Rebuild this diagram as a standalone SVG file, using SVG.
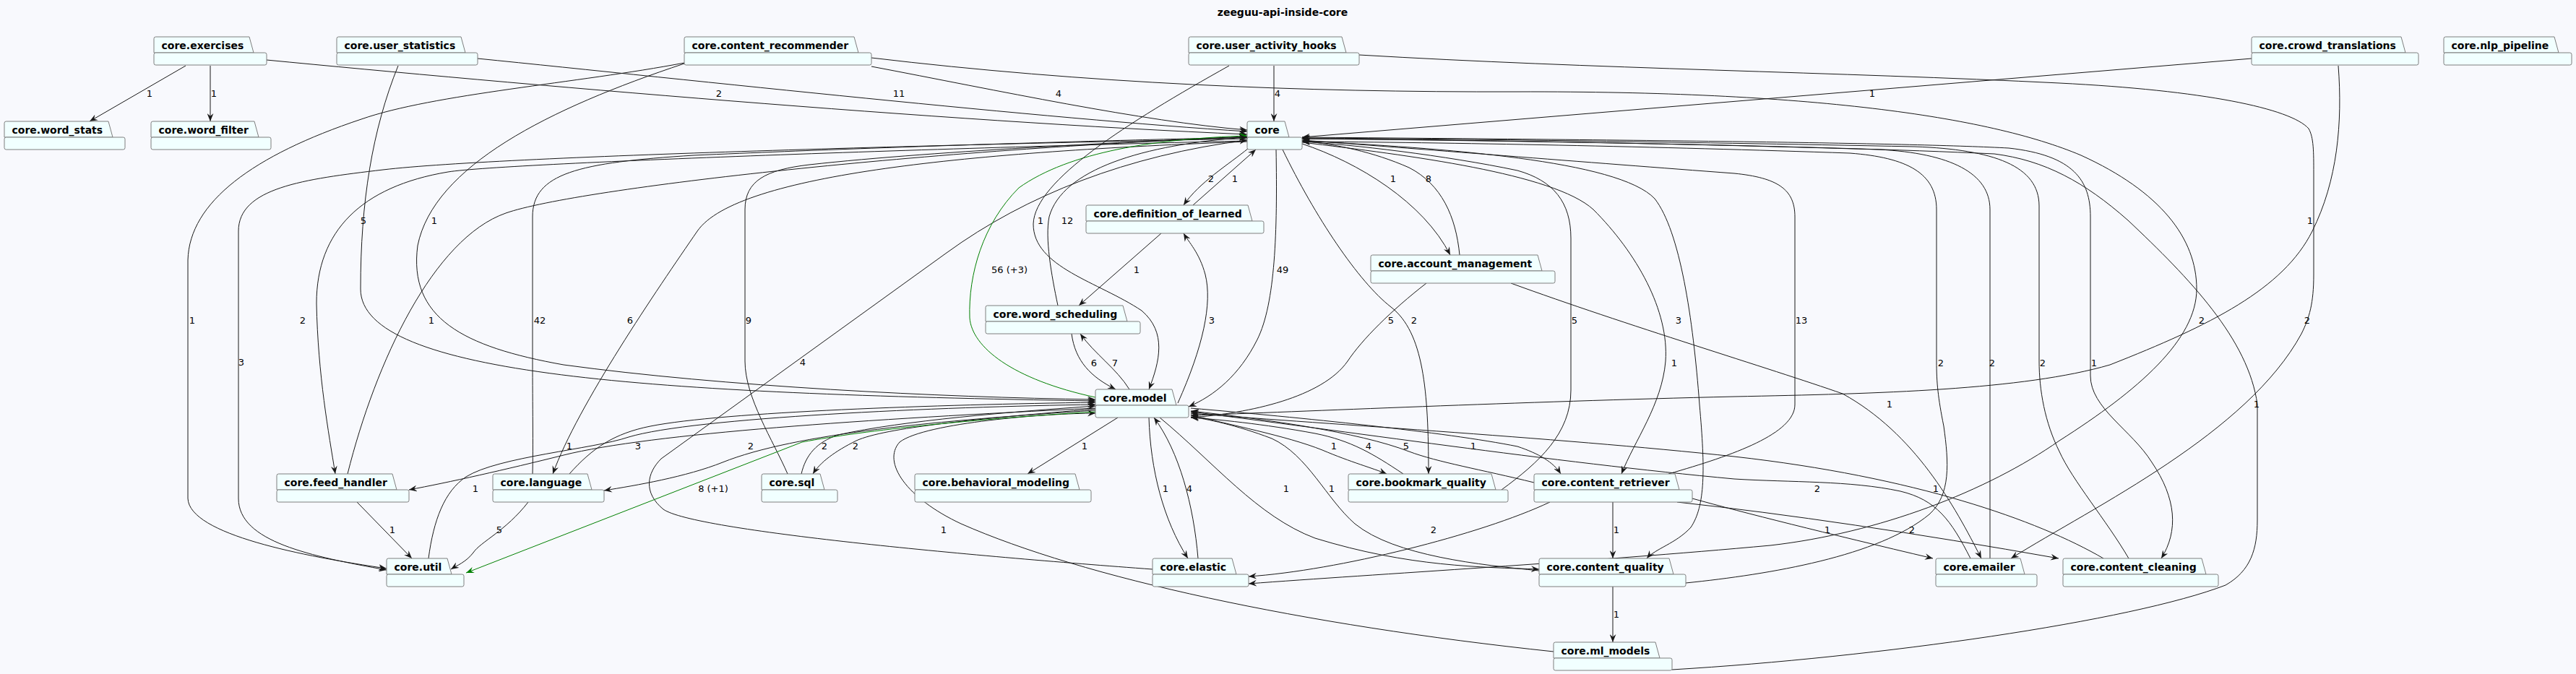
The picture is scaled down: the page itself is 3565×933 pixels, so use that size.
<svg xmlns="http://www.w3.org/2000/svg" width="3565" height="933" viewBox="0 0 3565 933">
<style>
.bg{fill:#F8F9FD}
.tab,.body{fill:#F1FFFF;stroke:#7E7E7E;stroke-width:1}
.nt{font-family:"DejaVu Sans",sans-serif;font-weight:bold;font-size:14px;fill:#000}
.title{font-family:"DejaVu Sans",sans-serif;font-weight:bold;font-size:14px;fill:#000}
.e{fill:none;stroke:#181818;stroke-width:1;marker-end:url(#ah)}
.g{fill:none;stroke:#008000;stroke-width:1;marker-end:url(#ahg)}
.lb{font-family:"DejaVu Sans",sans-serif;font-size:13px;fill:#000;text-anchor:middle}
</style>
<defs>
<marker id="ah" markerUnits="userSpaceOnUse" markerWidth="11" markerHeight="9" viewBox="0 0 10 8" refX="10" refY="4" orient="auto"><path d="M0,0 L10,4 L0,8 L3.5,4 Z" fill="#181818"/></marker>
<marker id="ahg" markerUnits="userSpaceOnUse" markerWidth="11" markerHeight="9" viewBox="0 0 10 8" refX="10" refY="4" orient="auto"><path d="M0,0 L10,4 L0,8 L3.5,4 Z" fill="#008000"/></marker>
</defs>
<rect class="bg" x="0" y="0" width="3565" height="933"/>
<text class="title" x="1775" y="22" text-anchor="middle">zeeguu-api-inside-core</text>

<g id="connectors">
<path class="e" d="M257,91 L124,168"/>
<path class="e" d="M291,91 L291,168"/>
<path class="e" d="M369,83 C700,115 1300,168 1726,186"/>
<path class="e" d="M661,81 C950,110 1450,165 1726,182"/>
<path class="e" d="M1206,92 C1380,125 1580,168 1726,180"/>
<path class="e" d="M1763,91 L1763,168"/>
<path class="e" d="M3116,81 L1802,190"/>
<path class="e" d="M551,91 C515,180 499,280 499,400 C499,520 900,545 1516,555"/>
<path class="e" d="M947,88 C760,150 600,230 578,340 C565,440 640,480 780,505 C1000,535 1300,550 1516,553"/>
<path class="e" d="M947,87 C800,115 600,130 500,165 C350,215 262,280 260,360 L260,690 C262,740 420,770 535,787"/>
<path class="e" d="M1726,192 C1400,198 700,215 530,235 C420,248 330,260 330,320 L330,690 C330,750 430,770 535,789"/>
<path class="e" d="M1726,195 C1400,202 700,225 620,238 C500,258 438,320 438,420 C440,520 455,600 464,656"/>
<path class="e" d="M481,656 C520,500 600,330 700,295 C800,260 1300,205 1726,190"/>
<path class="e" d="M1726,196 C1350,210 1020,240 965,320 C910,400 800,560 765,656"/>
<path class="e" d="M737,656 C738,620 737,560 737,500 L737,300 C737,240 800,225 960,215 C1300,200 1600,193 1726,190"/>
<path class="e" d="M1090,656 C1070,610 1031,550 1031,500 L1031,290 C1031,250 1060,235 1120,228 C1300,208 1600,195 1726,189"/>
<path class="e" d="M1595,788 C1350,770 960,735 918,705 C890,682 895,655 915,635 L1310,350 C1420,270 1560,215 1726,194"/>
<path class="g" d="M1516,550 C1400,525 1345,480 1342,440 C1340,380 1360,310 1410,260 C1480,210 1600,192 1726,188"/>
<path class="e" d="M1464,423 C1455,380 1446,330 1452,300 C1470,235 1580,200 1726,190"/>
<path class="e" d="M1701,91 C1560,170 1432,250 1430,310 C1430,370 1520,390 1580,430 C1615,460 1605,500 1590,539"/>
<path class="e" d="M1728,205 C1700,228 1660,252 1638,284"/>
<path class="e" d="M1651,284 L1738,207"/>
<path class="e" d="M1766,207 C1768,320 1765,420 1740,470 C1715,520 1680,548 1645,563"/>
<path class="e" d="M1775,207 C1820,300 1880,390 1925,425 C1970,460 1977,540 1977,656"/>
<path class="e" d="M1802,199 C1880,225 1970,280 2007,353"/>
<path class="e" d="M2020,353 C2015,300 1995,255 1950,232 C1900,210 1850,200 1802,195"/>
<path class="e" d="M1974,392 C1925,430 1885,470 1865,500 C1830,550 1730,572 1648,578"/>
<path class="e" d="M1630,558 C1665,480 1678,420 1668,380 C1660,350 1645,335 1638,323"/>
<path class="e" d="M1607,323 L1493,423"/>
<path class="e" d="M1483,462 C1488,500 1510,522 1544,539"/>
<path class="e" d="M1563,539 C1545,510 1515,490 1495,462"/>
<path class="e" d="M1547,578 L1422,656"/>
<path class="e" d="M1590,578 C1592,650 1610,720 1644,773"/>
<path class="e" d="M1658,773 C1652,700 1632,625 1597,578"/>
<path class="e" d="M1605,578 C1680,640 1740,715 1820,745 C1950,785 2050,785 2130,788"/>
<path class="e" d="M2130,790 C2050,782 1930,770 1875,725 C1835,690 1810,630 1760,607 C1710,588 1670,580 1648,577"/>
<path class="e" d="M1802,197 C1950,215 2150,240 2205,290 C2265,350 2310,430 2305,500 C2300,560 2262,610 2244,656"/>
<path class="e" d="M1802,195 C2000,205 2240,222 2290,275 C2325,320 2343,440 2352,560 C2360,650 2360,700 2340,730 C2320,752 2290,760 2279,773"/>
<path class="e" d="M2078,678 C2130,640 2174,600 2174,540 L2174,330 C2174,280 2150,250 2100,236 C2000,215 1870,200 1802,196"/>
<path class="e" d="M2309,656 C2400,630 2484,600 2484,560 L2484,300 C2484,262 2460,246 2400,240 C2200,225 1950,205 1802,194"/>
<path class="e" d="M2333,807 C2450,795 2600,770 2670,712 C2700,685 2697,640 2690,590 C2682,550 2680,530 2680,500 L2680,290 C2680,240 2640,218 2560,212 C2300,203 2000,197 1802,196"/>
<path class="e" d="M2754,773 L2754,290 C2754,240 2700,212 2600,207 C2300,198 2000,193 1802,192"/>
<path class="e" d="M2946,773 C2915,720 2868,665 2850,625 C2830,585 2822,540 2822,500 L2822,285 C2822,230 2760,207 2650,203 C2300,196 2000,192 1802,191"/>
<path class="e" d="M1802,190 C2300,194 2650,198 2780,205 C2870,215 2893,250 2893,300 L2893,520 C2893,565 2950,595 2978,640 C3012,690 3015,735 2991,773"/>
<path class="e" d="M2314,927 C2600,910 2950,860 3080,810 C3115,790 3124,760 3124,720 L3124,560 C3112,470 3030,385 2945,305 C2885,252 2830,222 2760,213 C2500,201 2100,195 1802,192"/>
<path class="e" d="M1206,80 C1500,115 1800,128 2100,127 C2500,126 2750,160 2880,215 C2990,265 3040,330 3040,400 C3040,470 2960,540 2850,610 C2750,680 2600,738 2450,755 C2200,778 1900,795 1728,808"/>
<path class="e" d="M1881,76 C2200,95 2550,100 2850,115 C3050,125 3170,150 3195,178 C3202,190 3202,210 3202,240 L3202,380 C3202,420 3196,440 3185,462 C3110,600 2900,700 2783,773"/>
<path class="e" d="M2091,392 C2250,450 2450,510 2550,545 C2650,600 2705,700 2742,773"/>
<path class="e" d="M3236,91 C3242,170 3235,250 3200,320 C3160,400 3060,450 2920,505 C2800,540 2600,545 2400,549 C2100,556 1800,570 1648,575"/>
<path class="e" d="M2911,773 C2820,720 2650,660 2400,632 C2150,605 1800,585 1648,572"/>
<path class="e" d="M2727,773 C2700,720 2680,692 2630,680 C2560,665 2480,668 2400,663 C2150,640 1850,595 1648,570"/>
<path class="e" d="M2123,668 C2050,650 1990,640 1950,625 C1880,598 1750,580 1648,569"/>
<path class="e" d="M1648,565 C1800,578 2000,598 2100,618 C2130,628 2150,640 2160,656"/>
<path class="e" d="M1648,574 C1700,588 1780,603 1830,623 C1870,640 1900,648 1919,656"/>
<path class="e" d="M1942,656 C1900,628 1870,610 1820,600 C1750,587 1680,580 1648,578"/>
<path class="e" d="M2145,695 C2050,740 1850,790 1728,798"/>
<path class="e" d="M2232,695 L2232,773"/>
<path class="e" d="M2232,812 L2232,889"/>
<path class="e" d="M2342,690 Q2450,720 2675,773"/>
<path class="e" d="M2321,695 Q2550,720 2849,773"/>
<path class="e" d="M2150,902 C1800,865 1500,800 1330,725 C1255,690 1220,640 1245,612 C1280,585 1450,572 1516,572"/>
<path class="e" d="M1516,565 C1200,580 900,600 780,630 C700,650 620,668 566,678"/>
<path class="e" d="M593,773 C600,720 615,680 645,660 C690,632 820,622 870,605 C960,578 1300,563 1516,560"/>
<path class="e" d="M494,695 L570,773"/>
<path class="e" d="M731,695 C700,735 665,750 655,765 C645,778 632,783 624,788"/>
<path class="e" d="M788,656 C820,620 850,600 900,590 C1000,570 1300,560 1516,557"/>
<path class="e" d="M1516,568 C1300,582 1100,600 1000,640 C950,660 880,672 836,679"/>
<path class="e" d="M1109,656 C1115,630 1130,612 1160,602 C1250,582 1400,570 1516,562"/>
<path class="e" d="M1516,566 C1350,580 1225,592 1185,610 C1155,625 1135,640 1125,656"/>
<path class="g" d="M1516,570 C1350,580 1200,595 1110,612 L645,793"/>

<text class="lb" x="207" y="134">1</text>
<text class="lb" x="296" y="134">1</text>
<text class="lb" x="995" y="134">2</text>
<text class="lb" x="1244" y="134">11</text>
<text class="lb" x="1465" y="134">4</text>
<text class="lb" x="1768" y="134">4</text>
<text class="lb" x="2591" y="134">1</text>
<text class="lb" x="503" y="310">5</text>
<text class="lb" x="601" y="310">1</text>
<text class="lb" x="266" y="448">1</text>
<text class="lb" x="334" y="506">3</text>
<text class="lb" x="419" y="448">2</text>
<text class="lb" x="597" y="448">1</text>
<text class="lb" x="872" y="448">6</text>
<text class="lb" x="747" y="448">42</text>
<text class="lb" x="1036" y="448">9</text>
<text class="lb" x="1111" y="506">4</text>
<text class="lb" x="1397" y="378">56 (+3)</text>
<text class="lb" x="1477" y="310">12</text>
<text class="lb" x="1440" y="310">1</text>
<text class="lb" x="1676" y="252">2</text>
<text class="lb" x="1709" y="252">1</text>
<text class="lb" x="1775" y="378">49</text>
<text class="lb" x="1957" y="448">2</text>
<text class="lb" x="1928" y="252">1</text>
<text class="lb" x="1977" y="252">8</text>
<text class="lb" x="1925" y="448">5</text>
<text class="lb" x="1677" y="448">3</text>
<text class="lb" x="1573" y="378">1</text>
<text class="lb" x="1514" y="507">6</text>
<text class="lb" x="1543" y="507">7</text>
<text class="lb" x="1501" y="622">1</text>
<text class="lb" x="1613" y="681">1</text>
<text class="lb" x="1646" y="681">4</text>
<text class="lb" x="1780" y="681">1</text>
<text class="lb" x="1843" y="681">1</text>
<text class="lb" x="2323" y="448">3</text>
<text class="lb" x="2317" y="507">1</text>
<text class="lb" x="2179" y="448">5</text>
<text class="lb" x="2493" y="448">13</text>
<text class="lb" x="2686" y="507">2</text>
<text class="lb" x="2757" y="507">2</text>
<text class="lb" x="2827" y="507">2</text>
<text class="lb" x="2898" y="507">1</text>
<text class="lb" x="3123" y="564">1</text>
<text class="lb" x="3047" y="448">2</text>
<text class="lb" x="3193" y="448">2</text>
<text class="lb" x="2615" y="564">1</text>
<text class="lb" x="3197" y="310">1</text>
<text class="lb" x="2515" y="681">2</text>
<text class="lb" x="2679" y="681">1</text>
<text class="lb" x="1946" y="622">5</text>
<text class="lb" x="2039" y="622">1</text>
<text class="lb" x="1846" y="622">1</text>
<text class="lb" x="1894" y="622">4</text>
<text class="lb" x="1984" y="738">2</text>
<text class="lb" x="2237" y="738">1</text>
<text class="lb" x="2237" y="855">1</text>
<text class="lb" x="2529" y="738">1</text>
<text class="lb" x="2646" y="738">2</text>
<text class="lb" x="1306" y="738">1</text>
<text class="lb" x="788" y="622">1</text>
<text class="lb" x="658" y="681">1</text>
<text class="lb" x="543" y="738">1</text>
<text class="lb" x="691" y="738">5</text>
<text class="lb" x="883" y="622">3</text>
<text class="lb" x="1039" y="622">2</text>
<text class="lb" x="1141" y="622">2</text>
<text class="lb" x="1184" y="622">2</text>
<text class="lb" x="987" y="681">8 (+1)</text>
</g>

<g id="n-exercises"><path class="tab" d="M213,73 V53.5 Q213,51 215.5,51 H345 L351,73 Z"/><rect class="body" x="213" y="73" width="156" height="17" rx="2.5"/><text class="nt" x="223.5" y="67.5">core.exercises</text></g>
<g id="n-user_statistics"><path class="tab" d="M466,73 V53.5 Q466,51 468.5,51 H638 L644,73 Z"/><rect class="body" x="466" y="73" width="195" height="17" rx="2.5"/><text class="nt" x="476.5" y="67.5">core.user_statistics</text></g>
<g id="n-content_recommender"><path class="tab" d="M947,73 V53.5 Q947,51 949.5,51 H1182 L1188,73 Z"/><rect class="body" x="947" y="73" width="259" height="17" rx="2.5"/><text class="nt" x="957.5" y="67.5">core.content_recommender</text></g>
<g id="n-user_activity_hooks"><path class="tab" d="M1645,73 V53.5 Q1645,51 1647.5,51 H1857 L1863,73 Z"/><rect class="body" x="1645" y="73" width="236" height="17" rx="2.5"/><text class="nt" x="1655.5" y="67.5">core.user_activity_hooks</text></g>
<g id="n-crowd_translations"><path class="tab" d="M3116,73 V53.5 Q3116,51 3118.5,51 H3323 L3329,73 Z"/><rect class="body" x="3116" y="73" width="231" height="17" rx="2.5"/><text class="nt" x="3126.5" y="67.5">core.crowd_translations</text></g>
<g id="n-nlp_pipeline"><path class="tab" d="M3382,73 V53.5 Q3382,51 3384.5,51 H3535 L3541,73 Z"/><rect class="body" x="3382" y="73" width="177" height="17" rx="2.5"/><text class="nt" x="3392.5" y="67.5">core.nlp_pipeline</text></g>
<g id="n-word_stats"><path class="tab" d="M6,190 V170.5 Q6,168 8.5,168 H150 L156,190 Z"/><rect class="body" x="6" y="190" width="167" height="17" rx="2.5"/><text class="nt" x="16.5" y="184.5">core.word_stats</text></g>
<g id="n-word_filter"><path class="tab" d="M209,190 V170.5 Q209,168 211.5,168 H352 L358,190 Z"/><rect class="body" x="209" y="190" width="166" height="17" rx="2.5"/><text class="nt" x="219.5" y="184.5">core.word_filter</text></g>
<g id="n-core"><path class="tab" d="M1726,190 V170.5 Q1726,168 1728.5,168 H1778 L1784,190 Z"/><rect class="body" x="1726" y="190" width="76" height="17" rx="2.5"/><text class="nt" x="1736.5" y="184.5">core</text></g>
<g id="n-definition_of_learned"><path class="tab" d="M1503,306 V286.5 Q1503,284 1505.5,284 H1727 L1733,306 Z"/><rect class="body" x="1503" y="306" width="246" height="17" rx="2.5"/><text class="nt" x="1513.5" y="300.5">core.definition_of_learned</text></g>
<g id="n-account_management"><path class="tab" d="M1897,375 V355.5 Q1897,353 1899.5,353 H2128 L2134,375 Z"/><rect class="body" x="1897" y="375" width="255" height="17" rx="2.5"/><text class="nt" x="1907.5" y="369.5">core.account_management</text></g>
<g id="n-word_scheduling"><path class="tab" d="M1364,445 V425.5 Q1364,423 1366.5,423 H1554 L1560,445 Z"/><rect class="body" x="1364" y="445" width="214" height="17" rx="2.5"/><text class="nt" x="1374.5" y="439.5">core.word_scheduling</text></g>
<g id="n-model"><path class="tab" d="M1516,561 V541.5 Q1516,539 1518.5,539 H1622 L1628,561 Z"/><rect class="body" x="1516" y="561" width="129" height="17" rx="2.5"/><text class="nt" x="1526.5" y="555.5">core.model</text></g>
<g id="n-feed_handler"><path class="tab" d="M383,678 V658.5 Q383,656 385.5,656 H543 L549,678 Z"/><rect class="body" x="383" y="678" width="183" height="17" rx="2.5"/><text class="nt" x="393.5" y="672.5">core.feed_handler</text></g>
<g id="n-language"><path class="tab" d="M682,678 V658.5 Q682,656 684.5,656 H813 L819,678 Z"/><rect class="body" x="682" y="678" width="154" height="17" rx="2.5"/><text class="nt" x="692.5" y="672.5">core.language</text></g>
<g id="n-sql"><path class="tab" d="M1054,678 V658.5 Q1054,656 1056.5,656 H1135 L1141,678 Z"/><rect class="body" x="1054" y="678" width="105" height="17" rx="2.5"/><text class="nt" x="1064.5" y="672.5">core.sql</text></g>
<g id="n-behavioral_modeling"><path class="tab" d="M1266,678 V658.5 Q1266,656 1268.5,656 H1488 L1494,678 Z"/><rect class="body" x="1266" y="678" width="244" height="17" rx="2.5"/><text class="nt" x="1276.5" y="672.5">core.behavioral_modeling</text></g>
<g id="n-bookmark_quality"><path class="tab" d="M1866,678 V658.5 Q1866,656 1868.5,656 H2064 L2070,678 Z"/><rect class="body" x="1866" y="678" width="221" height="17" rx="2.5"/><text class="nt" x="1876.5" y="672.5">core.bookmark_quality</text></g>
<g id="n-content_retriever"><path class="tab" d="M2123,678 V658.5 Q2123,656 2125.5,656 H2318 L2324,678 Z"/><rect class="body" x="2123" y="678" width="219" height="17" rx="2.5"/><text class="nt" x="2133.5" y="672.5">core.content_retriever</text></g>
<g id="n-util"><path class="tab" d="M535,795 V775.5 Q535,773 537.5,773 H619 L625,795 Z"/><rect class="body" x="535" y="795" width="107" height="17" rx="2.5"/><text class="nt" x="545.5" y="789.5">core.util</text></g>
<g id="n-elastic"><path class="tab" d="M1595,795 V775.5 Q1595,773 1597.5,773 H1705 L1711,795 Z"/><rect class="body" x="1595" y="795" width="133" height="17" rx="2.5"/><text class="nt" x="1605.5" y="789.5">core.elastic</text></g>
<g id="n-content_quality"><path class="tab" d="M2130,795 V775.5 Q2130,773 2132.5,773 H2310 L2316,795 Z"/><rect class="body" x="2130" y="795" width="203" height="17" rx="2.5"/><text class="nt" x="2140.5" y="789.5">core.content_quality</text></g>
<g id="n-emailer"><path class="tab" d="M2679,795 V775.5 Q2679,773 2681.5,773 H2796 L2802,795 Z"/><rect class="body" x="2679" y="795" width="140" height="17" rx="2.5"/><text class="nt" x="2689.5" y="789.5">core.emailer</text></g>
<g id="n-content_cleaning"><path class="tab" d="M2855,795 V775.5 Q2855,773 2857.5,773 H3047 L3053,795 Z"/><rect class="body" x="2855" y="795" width="215" height="17" rx="2.5"/><text class="nt" x="2865.5" y="789.5">core.content_cleaning</text></g>
<g id="n-ml_models"><path class="tab" d="M2150,911 V891.5 Q2150,889 2152.5,889 H2291 L2297,911 Z"/><rect class="body" x="2150" y="911" width="164" height="17" rx="2.5"/><text class="nt" x="2160.5" y="905.5">core.ml_models</text></g>
</svg>
